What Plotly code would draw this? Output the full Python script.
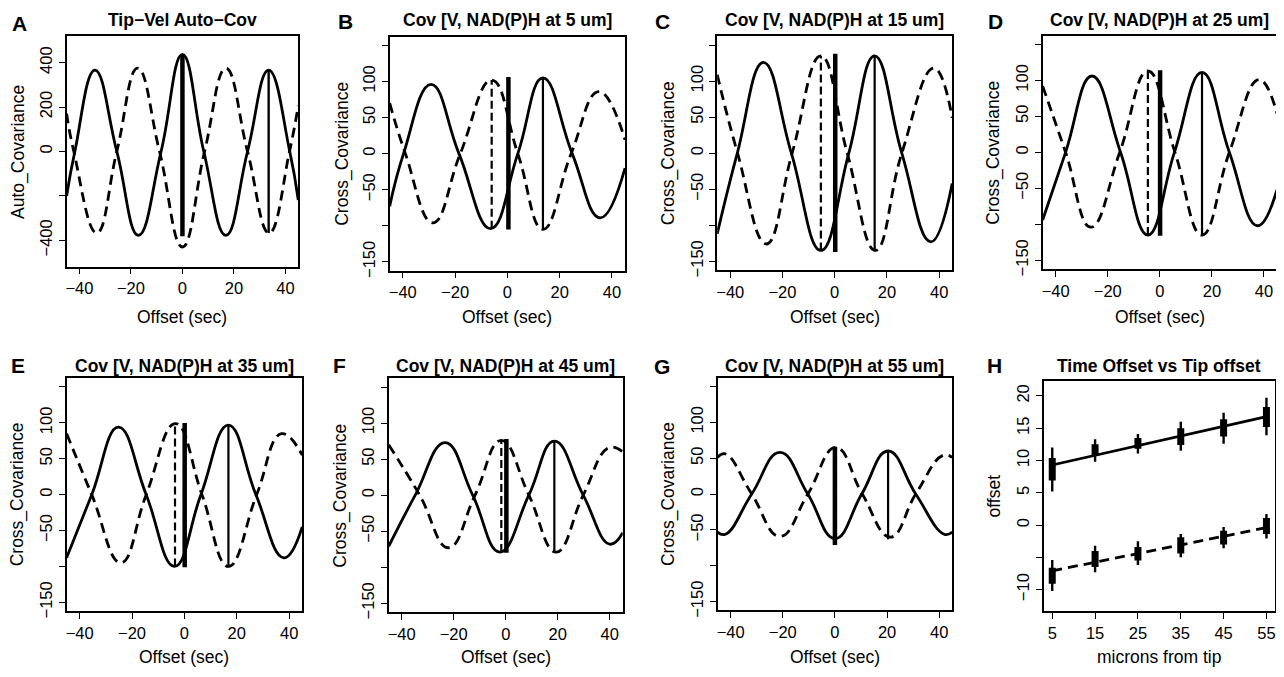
import plotly.graph_objects as go

# ------------------------------------------------------------------ data
lag_ticks = [-40, -20, 0, 20, 40]
lag_tick_text = ["−40", "−20", "0", "20", "40"]
cross_ticks = [-150, -100, -50, 0, 50, 100, 150]
cross_tick_text = ["−150", "", "−50", "0", "50", "100", ""]
auto_ticks = [-400, -200, 0, 200, 400]
auto_tick_text = ["−400", "", "0", "200", "400"]

# Panel A: tip-velocity auto-covariance (lag in sec)
a_solid_lag = [-45, -41.8, -34.0, -25.5, -17.1, -8.3, 0, 8.3, 16.9, 25.3, 33.5, 41.7, 45]
a_solid_cov = [-200, 0, 366, 0, -378, 0, 437, 0, -378, 0, 366, 0, -219]
a_dash_lag = [-45, -42.2, -33.3, -25.5, -17.4, -8.9, 0, 8.6, 16.9, 25.3, 33.7, 41.6, 45]
a_dash_cov = [170, 0, -367, 0, 375, 0, -430, 0, 375, 0, -367, 0, 207]
a_mark_lag = [0, 33.5]
a_mark_hi = [437, 366]
a_mark_lo = [-382, -367]

# Panel B: 5 um
b_solid_lag = [-45, -39.7, -29.2, -18.5, -6.4, 4.0, 13.6, 24.8, 35.5, 45]
b_solid_cov = [-73, 0, 96, 0, -104, 0, 105, 0, -89, -20]
b_dash_lag = [-45, -39.0, -28.5, -18.0, -6.0, 4.0, 13.6, 24.4, 35.0, 45]
b_dash_cov = [70, 0, -96, 0, 102, 0, -105, 0, 86, 19]
b_mark_lag = [-6.0, 0.4, 13.6]
b_mark_hi = [102, 106, 105]
b_mark_lo = [-104, -105, -106]

# Panel C: 15 um
c_solid_lag = [-45, -37.3, -27.3, -16.6, -5.3, 5.4, 15.3, 25.7, 36.8, 45]
c_solid_cov = [-112, 0, 126, 0, -135, 0, 135, 0, -123, -42]
c_dash_lag = [-45, -37.2, -26.2, -16.3, -5.3, 4.8, 15.6, 25.7, 38.0, 45]
c_dash_cov = [109, 0, -126, 0, 135, 0, -135, 0, 118, 49]
c_mark_lag = [-5.3, 0.2, 15.3]
c_mark_hi = [135, 138, 135]
c_mark_lo = [-135, -137, -136]

# Panel D: 25 um
d_solid_lag = [-45, -36.2, -26.1, -15.1, -4.6, 5.6, 16.2, 26.7, 37.5, 45]
d_solid_cov = [-94, 0, 106, 0, -115, 0, 111, 0, -102, -52]
d_dash_lag = [-45, -36.2, -26.5, -15.4, -4.6, 5.8, 16.2, 26.7, 38.1, 45]
d_dash_cov = [92, 0, -104, 0, 113, 0, -115, 0, 101, 54]
d_mark_lag = [-4.6, 0.1, 16.2]
d_mark_hi = [113, 114, 111]
d_mark_lo = [-115, -116, -115]

# Panel E: 35 um
e_solid_lag = [-45, -35.4, -25.2, -14.6, -3.8, 6.3, 16.8, 27.3, 38.0, 45]
e_solid_cov = [-88, 0, 94, 0, -100, 0, 97, 0, -88, -45]
e_dash_lag = [-45, -35.4, -24.3, -14.6, -3.4, 6.7, 16.8, 27.6, 37.1, 45]
e_dash_cov = [85, 0, -95, 0, 99, 0, -100, 0, 85, 55]
e_mark_lag = [-3.6, 0.1, 16.8]
e_mark_hi = [99, 100, 97]
e_mark_lo = [-100, -101, -101]

# Panel F: 45 um
f_solid_lag = [-45, -34.8, -23.3, -12.7, -2.3, 8.9, 18.7, 29.8, 40.0, 45]
f_solid_cov = [-71, 0, 73, 0, -79, 0, 75, 0, -68, -52]
f_dash_lag = [-45, -33.1, -22.0, -11.8, -1.7, 8.9, 19.4, 29.8, 39.7, 45]
f_dash_cov = [70, 0, -73, 0, 76, 0, -79, 0, 66, 60]
f_mark_lag = [-1.7, 0.25, 18.7]
f_mark_hi = [76, 78, 75]
f_mark_lo = [-79, -80, -80]

# Panel G: 55 um
g_solid_lag = [-45, -42, -31.9, -21.1, -10.4, 0, 10.3, 20.4, 31.0, 41.9, 45]
g_solid_cov = [-53, -56, 0, 58, 0, -62, 0, 60, 0, -56, -53]
g_dash_lag = [-45, -42, -31.9, -21.1, -10.4, 0.4, 10.5, 21.3, 31.0, 41.5, 45]
g_dash_cov = [51, 56, 0, -59, 0, 65, 0, -60, 0, 54, 51]
g_mark_lag = [0.4, 0.0, 20.4]
g_mark_hi = [65, 66, 60]
g_mark_lo = [-62, -71, -63]

# Panel H: time offset vs distance from tip
microns = [5, 15, 25, 35, 45, 55]
h_tick_text = ["5", "15", "25", "35", "45", "55"]
offset_ticks = [-10, -5, 0, 5, 10, 15, 20]
offset_tick_text = ["−10", "", "0", "5", "10", "15", "20"]
peak_range_lo = [5.2, 9.8, 11.1, 11.5, 12.6, 13.9]
peak_range_hi = [12.0, 13.3, 14.1, 16.0, 17.4, 19.7]
peak_core_lo = [6.9, 10.8, 11.8, 12.4, 13.7, 15.2]
peak_core_hi = [10.4, 12.5, 13.5, 15.0, 16.4, 18.3]
trough_range_lo = [-10.2, -7.3, -6.2, -5.0, -3.6, -2.1]
trough_range_hi = [-5.4, -3.2, -2.5, -1.4, -0.3, 1.7]
trough_core_lo = [-9.1, -6.5, -5.5, -4.4, -3.0, -1.4]
trough_core_hi = [-6.6, -4.0, -3.4, -1.9, -0.9, 1.1]
fit_x = [5, 55]
peak_fit = [9.3, 16.8]
trough_fit = [-7.1, -0.4]

# ------------------------------------------------------------------ layout helpers
W, H = 1284, 677
OFF = 8  # page body margin of the browser
WF, HF = W - OFF, H - OFF
FONT = "Liberation Sans, Arial, Helvetica, sans-serif"

# plot boxes in screen pixels: left, right, top, bottom
boxes = {
    "A": (65.7, 297.7, 36.7, 269.3),
    "B": (389.3, 625.0, 37.0, 273.3),
    "C": (717.3, 952.7, 36.7, 272.7),
    "D": (1043.3, 1278.0, 36.0, 271.7),
    "E": (65.7, 301.7, 382.3, 617.3),
    "F": (388.3, 622.7, 382.3, 618.3),
    "G": (717.7, 952.7, 381.7, 616.7),
    "H": (1044.3, 1276.0, 385.0, 617.3),
}
order = ["A", "B", "C", "D", "E", "F", "G", "H"]

titles = {
    "A": "Tip−Vel Auto−Cov",
    "B": "Cov [V, NAD(P)H at 5 um]",
    "C": "Cov [V, NAD(P)H at 15 um]",
    "D": "Cov [V, NAD(P)H at 25 um]",
    "E": "Cov [V, NAD(P)H at 35 um]",
    "F": "Cov [V, NAD(P)H at 45 um]",
    "G": "Cov [V, NAD(P)H at 55 um]",
    "H": "Time Offset vs Tip offset",
}
# letter x centre and top edge of its text box (screen px)
letter_pos = {"A": (19, 10), "B": (345, 8), "C": (663, 8), "D": (996, 8),
              "E": (17, 356), "F": (339, 356), "G": (662, 357), "H": (995, 356)}
ytitle_x = {"A": 17.5, "B": 341.7, "C": 668, "D": 994,
            "E": 16.7, "F": 340, "G": 668, "H": 995}


def px(x):
    return (x - OFF) / WF


def py(y):
    return 1 - (y - OFF) / HF


fig = go.Figure()

LW = 2.8
DASH = "10px,6px"


def axname(i):
    return ("x", "y") if i == 0 else (f"x{i+1}", f"y{i+1}")


def add_curve(i, xs, ys, dash=None, width=LW):
    xa, ya = axname(i)
    fig.add_trace(go.Scatter(
        x=xs, y=ys, mode="lines", xaxis=xa, yaxis=ya,
        line=dict(color="black", width=width, shape="spline", smoothing=1.3,
                  dash=dash if dash else "solid"),
        hoverinfo="skip", showlegend=False))


def add_segment(i, x, lo, hi, width, dash=None):
    xa, ya = axname(i)
    fig.add_trace(go.Scatter(
        x=[x, x], y=[lo, hi], mode="lines", xaxis=xa, yaxis=ya,
        line=dict(color="black", width=width, dash=dash if dash else "solid"),
        hoverinfo="skip", showlegend=False))


# Panel A
add_curve(0, a_solid_lag, a_solid_cov)
add_curve(0, a_dash_lag, a_dash_cov, dash=DASH)
add_segment(0, a_mark_lag[0], a_mark_lo[0], a_mark_hi[0], 4.5)
add_segment(0, a_mark_lag[1], a_mark_lo[1], a_mark_hi[1], 2.4)

cross = [
    (b_solid_lag, b_solid_cov, b_dash_lag, b_dash_cov, b_mark_lag, b_mark_hi, b_mark_lo),
    (c_solid_lag, c_solid_cov, c_dash_lag, c_dash_cov, c_mark_lag, c_mark_hi, c_mark_lo),
    (d_solid_lag, d_solid_cov, d_dash_lag, d_dash_cov, d_mark_lag, d_mark_hi, d_mark_lo),
    (e_solid_lag, e_solid_cov, e_dash_lag, e_dash_cov, e_mark_lag, e_mark_hi, e_mark_lo),
    (f_solid_lag, f_solid_cov, f_dash_lag, f_dash_cov, f_mark_lag, f_mark_hi, f_mark_lo),
    (g_solid_lag, g_solid_cov, g_dash_lag, g_dash_cov, g_mark_lag, g_mark_hi, g_mark_lo),
]
for k, (sx, sy, dx, dy, ml, mh, mlo) in enumerate(cross):
    i = k + 1
    add_curve(i, sx, sy)
    add_curve(i, dx, dy, dash=DASH)
    add_segment(i, ml[0], mlo[0], mh[0], 2.2, dash="8px,4px")
    add_segment(i, ml[1], mlo[1], mh[1], 4.5)
    add_segment(i, ml[2], mlo[2], mh[2], 2.2)

# Panel H
hx, hy = axname(7)


def bars(lo, hi, width):
    xs, ys = [], []
    for m, a, b in zip(microns, lo, hi):
        xs += [m, m, None]
        ys += [a, b, None]
    fig.add_trace(go.Scatter(x=xs, y=ys, mode="lines", xaxis=hx, yaxis=hy,
                             line=dict(color="black", width=width),
                             hoverinfo="skip", showlegend=False))


fig.add_trace(go.Scatter(x=fit_x, y=peak_fit, mode="lines", xaxis=hx, yaxis=hy,
                         line=dict(color="black", width=LW), showlegend=False))
fig.add_trace(go.Scatter(x=fit_x, y=trough_fit, mode="lines", xaxis=hx, yaxis=hy,
                         line=dict(color="black", width=LW, dash=DASH), showlegend=False))
bars(peak_range_lo, peak_range_hi, 2.4)
bars(peak_core_lo, peak_core_hi, 7)
bars(trough_range_lo, trough_range_hi, 2.4)
bars(trough_core_lo, trough_core_hi, 7)

# ------------------------------------------------------------------ axes
base_axis = dict(showline=True, mirror=True, linecolor="black", linewidth=1.6,
                 ticks="outside", ticklen=6, tickwidth=1.3, tickcolor="black",
                 showgrid=False, zeroline=False,
                 tickfont=dict(family=FONT, size=16.5, color="black"))

layout = dict(width=WF, height=HF, margin=dict(l=0, r=0, t=0, b=0),
              paper_bgcolor="white", plot_bgcolor="white", showlegend=False,
              font=dict(family=FONT, color="black"))

annotations = []
for i, key in enumerate(order):
    l, r, t, b = boxes[key]
    xk = "xaxis" if i == 0 else f"xaxis{i+1}"
    yk = "yaxis" if i == 0 else f"yaxis{i+1}"
    xa = dict(base_axis, domain=[px(l), min(px(r), 1)], anchor=axname(i)[1])
    ya = dict(base_axis, domain=[py(b), py(t)], anchor=axname(i)[0], tickangle=-90)
    if key == "H":
        xa.update(range=[3, 57], tickmode="array", tickvals=microns, ticktext=h_tick_text)
        ya.update(range=[-13.3, 22.3], tickmode="array", tickvals=offset_ticks,
                  ticktext=offset_tick_text)
        xtitle, ytitle = "microns from tip", "offset"
    else:
        xa.update(range=[-45, 45], tickmode="array", tickvals=lag_ticks, ticktext=lag_tick_text)
        if key == "A":
            ya.update(range=[-518, 518], tickmode="array", tickvals=auto_ticks,
                      ticktext=auto_tick_text)
            ytitle = "Auto_Covariance"
        else:
            ya.update(range=[-162, 162], tickmode="array", tickvals=cross_ticks,
                      ticktext=cross_tick_text)
            ytitle = "Cross_Covariance"
        xtitle = "Offset (sec)"
    layout[xk] = xa
    layout[yk] = ya

    cx = (l + r) / 2
    cy = (t + b) / 2
    row2 = t > 300
    annotations.append(dict(x=px(cx), y=py(370 if row2 else 20), xref="paper", yref="paper",
                            text=f"<b>{titles[key]}</b>", showarrow=False,
                            xanchor="center", yanchor="middle",
                            font=dict(family=FONT, size=17.5, color="black")))
    lx, ly = letter_pos[key]
    annotations.append(dict(x=px(lx), y=min(py(ly), 1), xref="paper", yref="paper",
                            text=f"<b>{key}</b>", showarrow=False,
                            xanchor="center", yanchor="top",
                            font=dict(family=FONT, size=21, color="black")))
    annotations.append(dict(x=px(cx), y=py(664 if row2 else 320), xref="paper", yref="paper",
                            text=xtitle, showarrow=False, xanchor="center", yanchor="middle",
                            font=dict(family=FONT, size=17.5, color="black")))
    annotations.append(dict(x=px(ytitle_x[key]), y=py(cy), xref="paper", yref="paper",
                            text=ytitle, showarrow=False, textangle=-90,
                            xanchor="center", yanchor="middle",
                            font=dict(family=FONT, size=17.5, color="black")))

layout["annotations"] = annotations
fig.update_layout(**layout)
fig.write_html("out.html")
